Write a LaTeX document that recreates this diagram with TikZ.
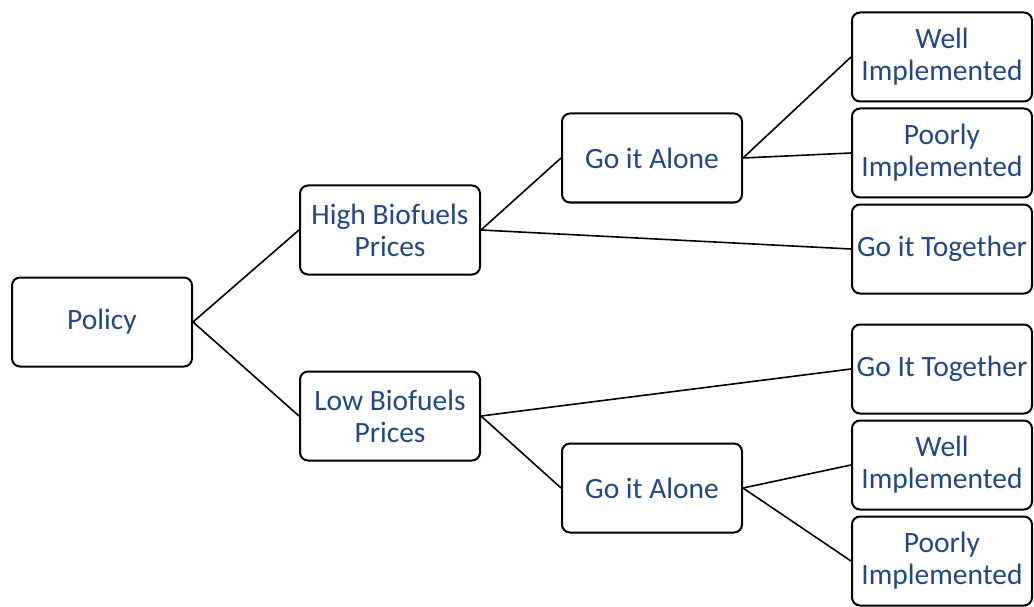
\documentclass[tikz,border=0pt]{standalone}
\usepackage{fontspec}
\setmainfont{Carlito}
\definecolor{txtblue}{RGB}{36,72,125}
\begin{document}
\begin{tikzpicture}[x=1pt,y=-1pt,
  box/.style={draw=black, line width=2pt, rounded corners=8pt, fill=white,
    minimum width=180pt, minimum height=89pt, align=center, inner sep=1pt,
    text=txtblue, font=\fontsize{29.5}{32}\selectfont},
  link/.style={draw=black, line width=1.6pt}]
\useasboundingbox (0,0) rectangle (1034,607);
\node[box] (policy) at (102,322) {Policy};
\node[box] (high) at (390,230) {High Biofuels\\Prices};
\node[box] (low) at (390,416) {Low Biofuels\\Prices};
\node[box] (ga1) at (652,158) {Go it Alone};
\node[box] (ga2) at (652,488) {Go it Alone};
\node[box] (w1) at (942,57) {Well\\Implemented};
\node[box] (p1) at (942,153) {Poorly\\Implemented};
\node[box] (gt1) at (942,249) {Go it Together};
\node[box] (gt2) at (942,369) {Go It Together};
\node[box] (w2) at (942,465) {Well\\Implemented};
\node[box] (p2) at (942,561) {Poorly\\Implemented};
\draw[link] (policy.east) -- (high.west);
\draw[link] (policy.east) -- (low.west);
\draw[link] (high.east) -- (ga1.west);
\draw[link] (high.east) -- (gt1.west);
\draw[link] (ga1.east) -- (w1.west);
\draw[link] (ga1.east) -- (p1.west);
\draw[link] (low.east) -- (gt2.west);
\draw[link] (low.east) -- (ga2.west);
\draw[link] (ga2.east) -- (w2.west);
\draw[link] (ga2.east) -- (p2.west);
\end{tikzpicture}
\end{document}
